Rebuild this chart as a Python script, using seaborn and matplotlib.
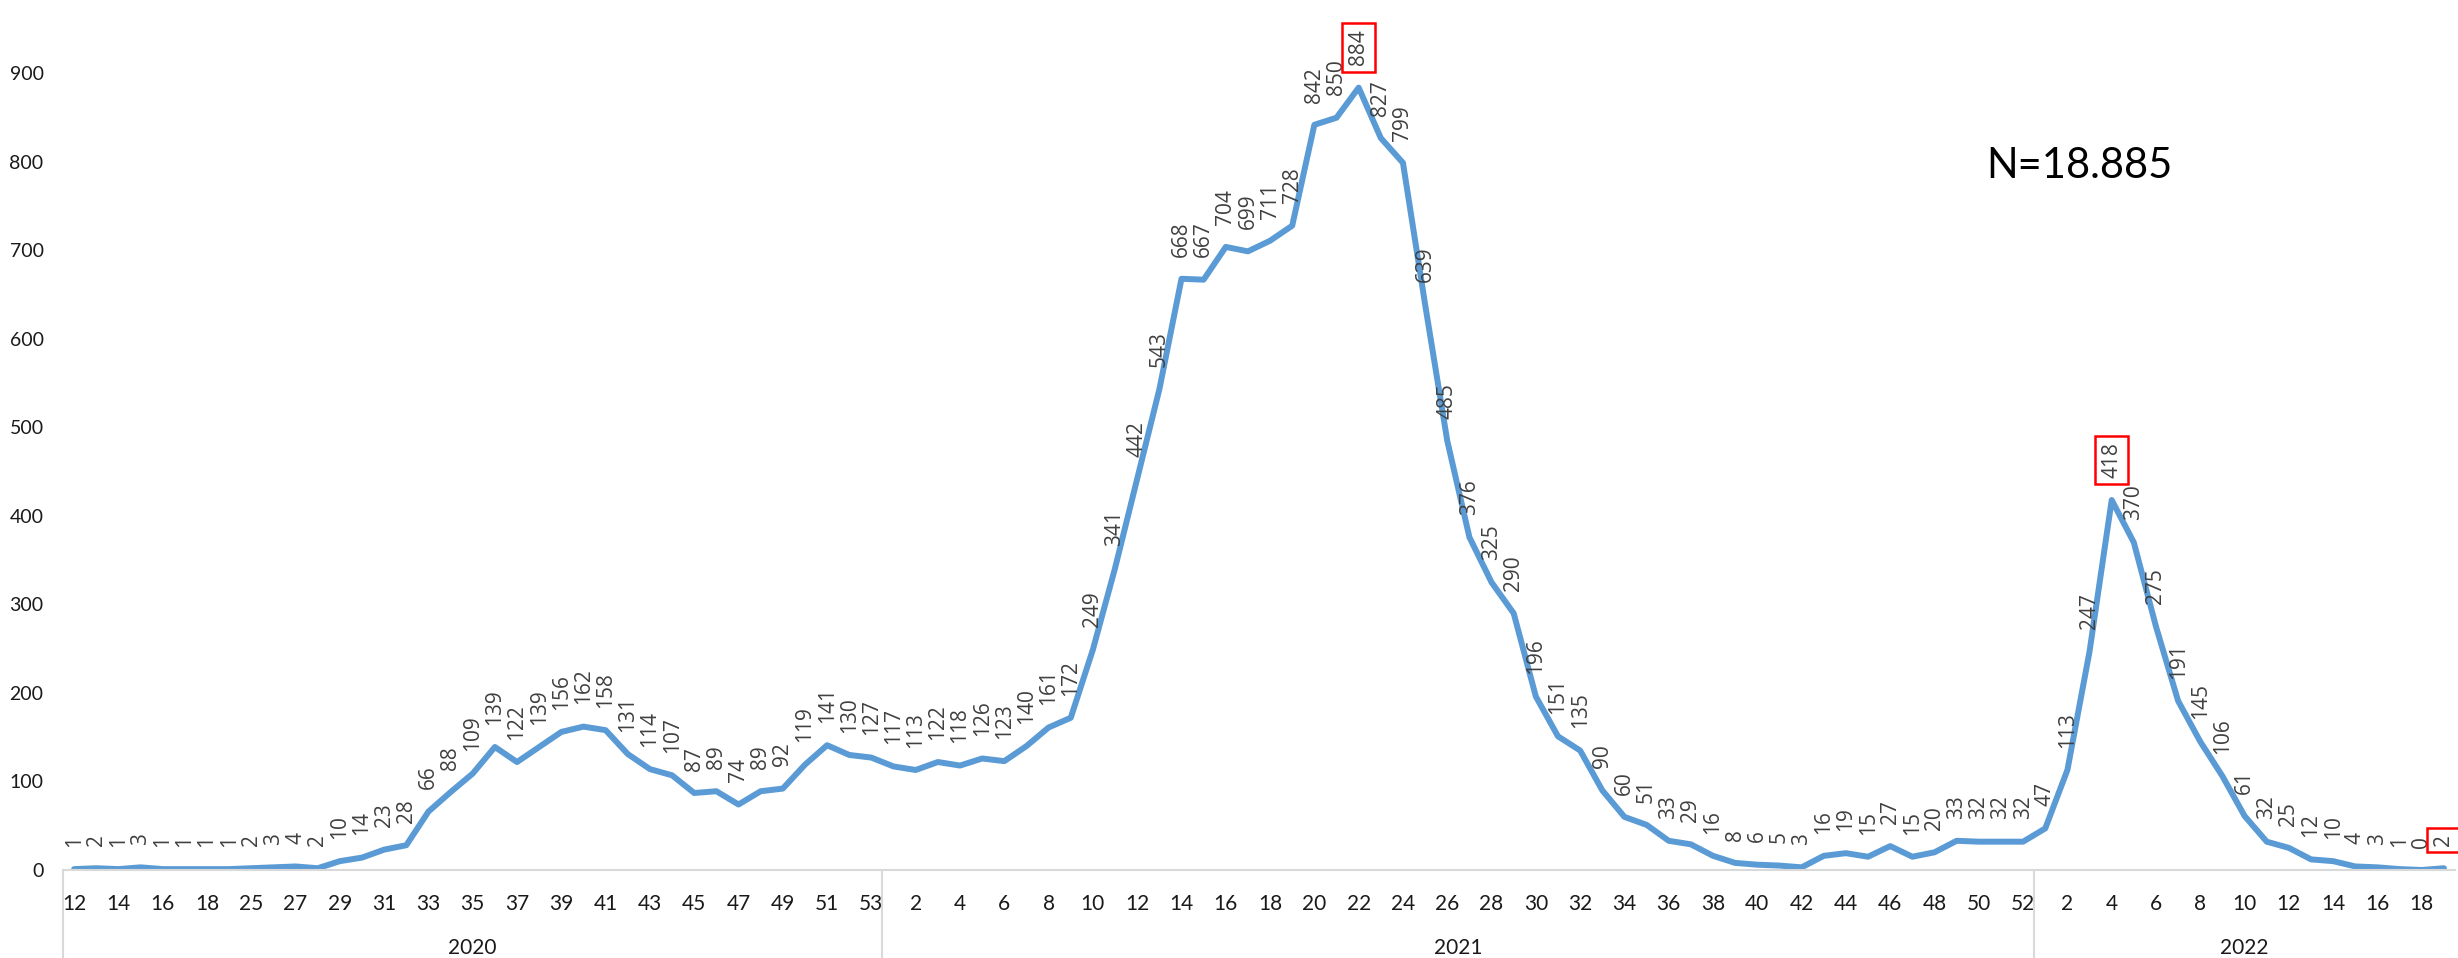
import matplotlib
matplotlib.use('Agg')
import matplotlib.pyplot as plt
import pandas as pd
import seaborn as sns

# weekly counts, Excel-style two level category axis (week / year)
weeks_2020 = [12, 13, 14, 15, 16, 17, 18, 19] + list(range(25, 54))
cases_2020 = [1, 2, 1, 3, 1, 1, 1, 1, 2, 3, 4, 2, 10, 14, 23, 28, 66, 88, 109, 139,
              122, 139, 156, 162, 158, 131, 114, 107, 87, 89, 74, 89, 92, 119, 141, 130, 127]

weeks_2021 = list(range(1, 53))
cases_2021 = [117, 113, 122, 118, 126, 123, 140, 161, 172, 249, 341, 442, 543, 668, 667,
              704, 699, 711, 728, 842, 850, 884, 827, 799, 639, 485, 376, 325, 290, 196,
              151, 135, 90, 60, 51, 33, 29, 16, 8, 6, 5, 3, 16, 19, 15, 27, 15, 20, 33,
              32, 32, 32]

weeks_2022 = list(range(1, 20))
cases_2022 = [47, 113, 247, 418, 370, 275, 191, 145, 106, 61, 32, 25, 12, 10, 4, 3, 1, 0, 2]

years = ['2020', '2021', '2022']
total_label = 'N=18.885'
boxed = [('2021', 22), ('2022', 4), ('2022', 19)]

line_color = '#5B9BD5'
label_color = '#404040'
grid_color = '#D9D9D9'

rows = []
for yr, wk, cs in zip(years, [weeks_2020, weeks_2021, weeks_2022], [cases_2020, cases_2021, cases_2022]):
    for w, c in zip(wk, cs):
        rows.append({'year': yr, 'week': w, 'cases': c})
df = pd.DataFrame(rows)
df['idx'] = range(len(df))

sns.set_style('white')
plt.rcParams['font.family'] = ['Lato', 'DejaVu Sans']

W, H = 2458, 958
fig = plt.figure(figsize=(W / 100, H / 100), dpi=100)
ax = fig.add_axes([63 / W, 88 / H, (2455 - 63) / W, 870 / H])

sns.lineplot(data=df, x='idx', y='cases', color=line_color, lw=4.3, ax=ax)

# data labels
for _, r in df.iterrows():
    is_boxed = (r['year'], r['week']) in boxed
    ax.annotate(str(r['cases']), (r['idx'], r['cases']), xytext=(0, 16),
                textcoords='offset points', rotation=90, ha='center', va='bottom',
                fontsize=15, color=label_color, family=['Open Sans', 'DejaVu Sans'],
                annotation_clip=False,
                bbox=dict(boxstyle='square,pad=0.3', fc='none', ec='red', lw=1.8) if is_boxed else None)

ax.set_xlim(-0.5, len(df) - 0.5)
ax.set_ylim(0, 983)
ax.set_yticks(range(0, 1000, 100))
ax.tick_params(axis='y', labelsize=14, length=0, pad=14, labelcolor='#1a1a1a')

ticks = df['idx'][::2]
ax.set_xticks(ticks)
ax.set_xticklabels(df['week'][::2].astype(str))
ax.tick_params(axis='x', labelsize=15, length=0, pad=17, labelcolor='#1a1a1a')
ax.set_xlabel('')
ax.set_ylabel('')

for s in ['left', 'top', 'right']:
    ax.spines[s].set_visible(False)
ax.spines['bottom'].set_color(grid_color)
ax.spines['bottom'].set_linewidth(1.5)

# year groups with separators
trans = ax.get_xaxis_transform()
bounds = [-0.5]
for yr in years:
    sub = df[df['year'] == yr]
    bounds.append(sub['idx'].max() + 0.5)
    ax.text((sub['idx'].min() + sub['idx'].max()) / 2, -0.0897, yr, transform=trans,
            ha='center', va='center', fontsize=15, color='#1a1a1a')
for b in bounds[:-1]:
    ax.plot([b, b], [0, -0.12], transform=trans, color=grid_color, lw=1.5, clip_on=False)

ax.text(0.843, 0.809, total_label, transform=ax.transAxes, fontsize=30,
        ha='center', va='center', color='black')

plt.savefig('out.png', dpi=100)
